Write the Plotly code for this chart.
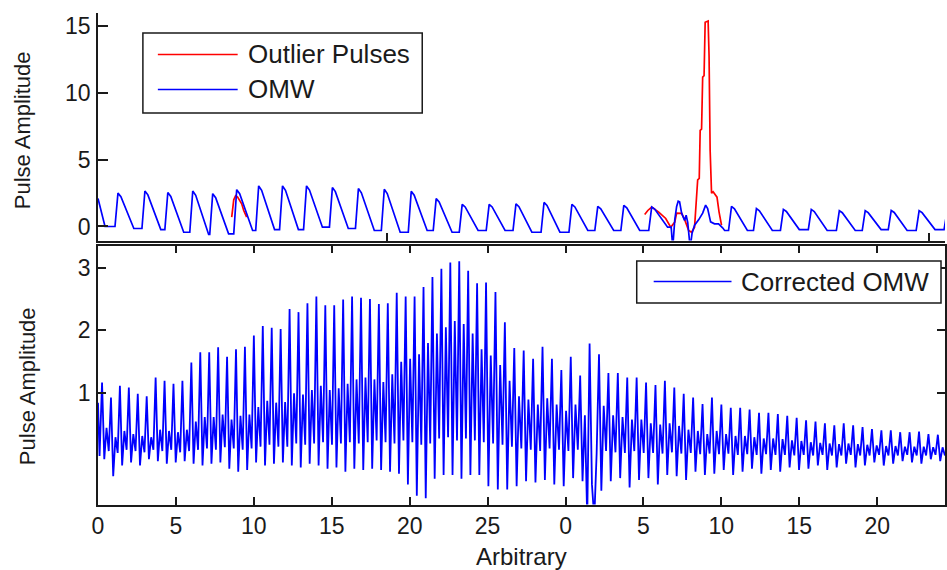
import numpy as np
import plotly.graph_objects as go

# ---------------- Top panel: raw OMW and detected outlier pulses ----------------
# Lead-in before the first complete pulse
omw_lead_x = [0.00, 0.45, 1.09]
omw_lead_y = [2.10, 0.00, 0.00]

# Regular pulses before the disturbed stretch: peak position, peak and following trough
omw_a_x = [1.28, 3.01, 4.48, 6.08, 7.36, 8.90, 10.31, 11.84, 13.38, 15.04, 16.71,
           18.37, 20.10, 21.70, 23.37, 25.10, 26.82, 28.62, 30.41, 32.07, 33.74, 35.53]
omw_a_peak = [2.50, 2.66, 2.55, 2.66, 2.46, 2.76, 3.04, 3.04, 3.04, 2.92, 2.84,
              2.79, 2.64, 2.09, 1.66, 1.66, 1.70, 1.80, 1.66, 1.51, 1.58, 1.46]
omw_a_trough = [-0.15, -0.23, -0.43, -0.60, -0.55, -0.30, -0.23, -0.23, -0.05, -0.15, -0.30,
                -0.43, -0.30, -0.43, -0.30, -0.30, -0.43, -0.43, -0.30, -0.30, -0.30, -0.05]

# Disturbed stretch (motion artefact)
omw_mid_x = [36.78, 36.88, 37.01, 37.13, 37.23, 37.32, 37.45, 37.64, 37.74, 37.84, 38.00,
             38.12, 38.28, 38.54, 38.80, 38.99, 39.12, 39.31, 39.56, 39.82, 40.08, 40.21]
omw_mid_y = [-0.05, -1.60, 0.50, 1.50, 1.90, 1.85, 1.00, 0.45, 0.85, 0.30, -1.60,
             -0.50, 0.10, 0.50, 1.00, 1.60, 1.35, 0.35, 0.20, 0.20, -0.10, -0.30]

# Regular pulses after the disturbed stretch
omw_b_x = [40.65, 42.25, 43.98, 45.77, 47.57, 49.23, 50.90, 52.69, 54.48]
omw_b_peak = [1.51, 1.34, 1.28, 1.28, 1.18, 1.18, 1.20, 1.18, 1.15]
omw_b_trough = [-0.30, -0.30, -0.23, -0.30, -0.30, -0.23, -0.30, -0.23, -0.25]

# Pulse contour: offsets from the peak and fraction of the peak-to-trough height
pulse_dx = [0.19, 0.38, 0.58, 0.77, 0.90, 1.02]
pulse_frac = [0.90, 0.70, 0.50, 0.30, 0.12, 0.00]
rise_dx = 0.19

# Outlier pulses
outlier_1_x = [8.58, 8.71, 8.83, 8.96, 9.22, 9.35, 9.54]
outlier_1_y = [0.70, 2.00, 2.30, 2.20, 1.70, 1.20, 0.70]
outlier_2_x = [35.08, 35.28, 35.53, 35.98, 36.43, 36.75, 37.01, 37.13, 37.45, 37.64,
               37.90, 38.09, 38.28, 38.38, 38.48, 38.58, 38.64, 38.73, 38.80, 38.89,
               38.96, 39.15, 39.21, 39.28, 39.37, 39.47, 39.60, 39.72, 39.85, 40.01]
outlier_2_y = [0.90, 1.20, 1.46, 1.08, 0.60, -0.05, 0.33, 1.00, 0.98, 0.53,
               -0.30, -0.43, -0.05, 2.00, 3.50, 3.60, 7.20, 7.30, 11.20, 11.30,
               15.30, 15.40, 12.80, 5.70, 2.50, 2.60, 2.40, 2.20, 1.10, 0.10]

# ---------------- Bottom panel: corrected OMW, per oscillation ----------------
cor_lead_x = [0.00, 0.10]
cor_lead_y = [0.85, 0.00]

cor_peak = [1.17, 0.93, 1.12, 1.09, 0.99, 0.95, 1.25, 1.20, 1.15, 1.20,
            1.49, 1.65, 1.65, 1.73, 1.58, 1.70, 1.74, 1.92, 2.07, 2.04,
            2.02, 2.34, 2.29, 2.43, 2.54, 2.40, 2.40, 2.49, 2.54, 2.52,
            2.50, 2.42, 2.43, 2.60, 2.54, 2.54, 2.69, 2.85, 2.98, 3.08,
            3.10, 2.95, 2.75, 2.76, 2.61, 2.13, 1.72, 1.68, 1.55, 1.74,
            1.55, 1.37, 1.58, 1.28, 1.79, 1.62, 1.32, 1.32, 1.25, 1.25,
            1.17, 1.13, 1.20, 1.09, 0.99, 0.93, 0.83, 0.93, 0.82, 0.77,
            0.77, 0.74, 0.69, 0.69, 0.67, 0.64, 0.61, 0.57, 0.55, 0.52,
            0.49, 0.52, 0.49, 0.46, 0.43, 0.41, 0.41, 0.38, 0.38, 0.39,
            0.35, 0.34]
cor_mid = [0.45, 0.30, 0.40, 0.35, 0.32, 0.30, 0.42, 0.40, 0.38, 0.42,
           0.55, 0.62, 0.62, 0.66, 0.58, 0.64, 0.66, 0.78, 0.88, 0.85,
           0.86, 1.00, 0.98, 1.05, 1.12, 1.05, 1.08, 1.15, 1.22, 1.25,
           1.22, 1.18, 1.30, 1.50, 1.55, 1.62, 1.80, 1.95, 2.05, 2.15,
           2.10, 1.95, 1.70, 1.60, 1.45, 1.20, 0.95, 0.90, 0.82, 0.92,
           0.82, 0.72, 0.82, 0.65, -1.00, 0.80, 0.65, 0.62, 0.58, 0.58,
           0.52, 0.50, 0.52, 0.48, 0.42, 0.40, 0.35, 0.40, 0.35, 0.32,
           0.32, 0.30, 0.28, 0.28, 0.27, 0.25, 0.24, 0.22, 0.21, 0.20,
           0.19, 0.20, 0.19, 0.18, 0.17, 0.16, 0.16, 0.15, 0.15, 0.15,
           0.14, 0.14]
cor_low = [-0.05, -0.32, -0.15, -0.10, -0.15, -0.05, -0.08, -0.12, -0.10, -0.08,
           -0.12, -0.15, -0.12, -0.10, -0.20, -0.25, -0.22, -0.10, -0.15, -0.12,
           -0.10, -0.15, -0.18, -0.12, -0.15, -0.20, -0.18, -0.25, -0.20, -0.22,
           -0.20, -0.22, -0.25, -0.28, -0.45, -0.63, -0.67, -0.36, -0.30, -0.30,
           -0.36, -0.30, -0.30, -0.48, -0.53, -0.53, -0.48, -0.40, -0.42, -0.38,
           -0.45, -0.48, -0.35, -0.40, -0.45, -0.55, -0.40, -0.35, -0.50, -0.38,
           -0.35, -0.45, -0.30, -0.32, -0.38, -0.25, -0.30, -0.28, -0.22, -0.30,
           -0.25, -0.20, -0.28, -0.22, -0.25, -0.18, -0.22, -0.20, -0.15, -0.22,
           -0.18, -0.12, -0.18, -0.15, -0.10, -0.15, -0.12, -0.08, -0.10, -0.12,
           -0.05, -0.08]
cor_base = [0.08, 0.05, 0.10, 0.08, 0.06, 0.10, 0.08, 0.10, 0.06, 0.08,
            0.10, 0.12, 0.10, 0.14, 0.12, 0.10, 0.12, 0.15, 0.18, 0.15,
            0.15, 0.20, 0.18, 0.20, 0.22, 0.18, 0.20, 0.22, 0.20, 0.22,
            0.25, 0.22, 0.20, 0.25, 0.22, 0.18, 0.20, 0.28, 0.30, 0.25,
            0.28, 0.25, 0.22, 0.20, 0.18, 0.15, 0.12, 0.10, 0.08, 0.12,
            0.10, 0.08, 0.10, -1.00, 0.05, 0.08, 0.06, 0.05, 0.08, 0.05,
            0.05, 0.04, 0.06, 0.04, 0.05, 0.03, 0.04, 0.03, 0.04, 0.02,
            0.03, 0.02, 0.03, 0.02, 0.02, 0.01, 0.02, 0.01, 0.02, 0.01,
            0.01, 0.02, 0.01, 0.01, 0.02, 0.01, 0.01, 0.02, 0.01, 0.01,
            0.02, 0.01]

# Two recordings joined end to end (label restarts at 0)
rec1_start, rec1_step, rec1_n = 0.26, 0.573, 43
rec2_start, rec2_step = 24.90, 0.604

x_ticks = list(range(0, 55, 5))
x_tick_labels = ["0", "5", "10", "15", "20", "25", "0", "5", "10", "15", "20"]
top_y_ticks = [0, 5, 10, 15]
bottom_y_ticks = [1, 2, 3]
top_x_ticks = [18.57, 53.33]

BLUE = "#0000ff"
RED = "#ff0000"
INK = "#1a1a1a"
FONT = "Liberation Sans, Arial, sans-serif"


def build_pulses(px, peaks, troughs, prev_trough):
    xs, ys = [], []
    for x0, p, t in zip(px, peaks, troughs):
        xs += [x0 - rise_dx, x0]
        ys += [prev_trough, p]
        for dx, f in zip(pulse_dx, pulse_frac):
            xs.append(x0 + dx)
            ys.append(t + f * (p - t))
        prev_trough = t
    return xs, ys


ax_, ay_ = build_pulses(omw_a_x, omw_a_peak, omw_a_trough, omw_lead_y[-1])
bx_, by_ = build_pulses(omw_b_x, omw_b_peak, omw_b_trough, omw_mid_y[-1])
omw_x = omw_lead_x + ax_ + omw_mid_x + bx_
omw_y = omw_lead_y + ay_ + omw_mid_y + by_

outlier_x = outlier_1_x + [None] + outlier_2_x
outlier_y = outlier_1_y + [None] + outlier_2_y

# each oscillation: peak -> low -> secondary crest -> base
n_cyc = len(cor_peak)
cycle_x = np.concatenate([rec1_start + rec1_step * np.arange(rec1_n),
                          rec2_start + rec2_step * np.arange(n_cyc - rec1_n)])
cycle_step = np.concatenate([np.full(rec1_n, rec1_step), np.full(n_cyc - rec1_n, rec2_step)])
cor_x, cor_y = list(cor_lead_x), list(cor_lead_y)
for i in range(n_cyc):
    for k, v in enumerate((cor_peak[i], cor_low[i], cor_mid[i], cor_base[i])):
        cor_x.append(cycle_x[i] + 0.25 * k * cycle_step[i])
        cor_y.append(v)

fig = go.Figure()
fig.add_trace(go.Scatter(x=outlier_x, y=outlier_y, mode="lines", name="Outlier Pulses",
                         line=dict(color=RED, width=1.7), xaxis="x2", yaxis="y2",
                         showlegend=False))
fig.add_trace(go.Scatter(x=omw_x, y=omw_y, mode="lines", name="OMW",
                         line=dict(color=BLUE, width=1.7), xaxis="x2", yaxis="y2",
                         showlegend=False))
fig.add_trace(go.Scatter(x=cor_x, y=cor_y, mode="lines", name="Corrected OMW",
                         line=dict(color=BLUE, width=1.8), xaxis="x", yaxis="y",
                         showlegend=False))

H = 570.0


def py(v):
    return 1 - v / H


def pxp(v):
    return (v - 98) / 849.0


axis_common = dict(showgrid=False, zeroline=False, showline=True, linecolor=INK,
                   linewidth=1.5, ticks="inside", tickcolor=INK, tickwidth=1.5,
                   tickfont=dict(family=FONT, size=23, color=INK))

fig.update_layout(
    width=947, height=570,
    margin=dict(l=98, r=0, t=0, b=0),
    paper_bgcolor="white", plot_bgcolor="white",
    showlegend=False,
    xaxis=dict(domain=[0, 1], anchor="y", range=[0, 54.35], tickvals=x_ticks,
               ticktext=x_tick_labels, ticklen=8, mirror="ticks", ticklabelstandoff=0,
               **axis_common),
    yaxis=dict(domain=[py(504.5), py(245.5)], anchor="x", range=[-0.77, 3.35],
               tickvals=bottom_y_ticks, ticklen=8, mirror="ticks", ticklabelstandoff=1,
               **axis_common),
    xaxis2=dict(domain=[0, 1], anchor="y2", range=[0, 54.35], tickvals=top_x_ticks,
                showticklabels=False, ticklen=8, **axis_common),
    yaxis2=dict(domain=[py(240.5), py(13)], anchor="x2", range=[-1.05, 16.0],
                tickvals=top_y_ticks, ticklen=10, ticklabelstandoff=1, **axis_common),
)

shapes = []
annotations = []

# legend of the top panel
shapes.append(dict(type="rect", xref="paper", yref="paper", x0=pxp(143), x1=pxp(423),
                   y0=py(113), y1=py(33), line=dict(color=INK, width=1.5), fillcolor="white"))
for name, color, yy in (("Outlier Pulses", RED, 54.5), ("OMW", BLUE, 89.5)):
    shapes.append(dict(type="line", xref="paper", yref="paper", x0=pxp(158), x1=pxp(238),
                       y0=py(yy), y1=py(yy), line=dict(color=color, width=1.7)))
    annotations.append(dict(text=name, xref="paper", yref="paper", x=pxp(246), y=py(yy),
                            xanchor="left", yanchor="middle", showarrow=False,
                            font=dict(family=FONT, size=26, color=INK)))

# legend of the bottom panel
shapes.append(dict(type="rect", xref="paper", yref="paper", x0=pxp(638), x1=pxp(943),
                   y0=py(303), y1=py(261), line=dict(color=INK, width=1.5), fillcolor="white"))
shapes.append(dict(type="line", xref="paper", yref="paper", x0=pxp(655), x1=pxp(733),
                   y0=py(281.5), y1=py(281.5), line=dict(color=BLUE, width=1.7)))
annotations.append(dict(text="Corrected OMW", xref="paper", yref="paper", x=pxp(741),
                        y=py(282), xanchor="left", yanchor="middle", showarrow=False,
                        font=dict(family=FONT, size=26, color=INK)))

# axis titles
annotations.append(dict(text="Pulse Amplitude", xref="paper", yref="paper", x=pxp(22),
                        y=py(130), textangle=-90, xanchor="center", yanchor="middle",
                        showarrow=False, font=dict(family=FONT, size=22, color=INK)))
annotations.append(dict(text="Pulse Amplitude", xref="paper", yref="paper", x=pxp(27),
                        y=py(386), textangle=-90, xanchor="center", yanchor="middle",
                        showarrow=False, font=dict(family=FONT, size=22, color=INK)))
annotations.append(dict(text="Arbitrary", xref="paper", yref="paper", x=pxp(522.5),
                        y=py(556), xanchor="center", yanchor="middle", showarrow=False,
                        font=dict(family=FONT, size=24, color=INK)))

fig.update_layout(shapes=shapes, annotations=annotations)
fig.write_html("out.html")
